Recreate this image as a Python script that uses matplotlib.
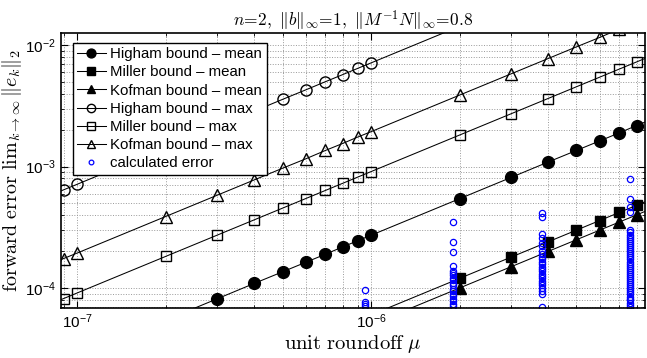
import matplotlib
matplotlib.use('Agg')
import matplotlib.pyplot as plt
from matplotlib.ticker import LogLocator, NullFormatter

plt.rcParams['font.family'] = ['Liberation Sans', 'DejaVu Sans']
plt.rcParams['mathtext.fontset'] = 'cm'

# unit roundoff values where the bounds are evaluated
mu = [8e-8, 9e-8, 1e-7, 2e-7, 3e-7, 4e-7, 5e-7, 6e-7, 7e-7, 8e-7, 9e-7,
      1e-6, 2e-6, 3e-6, 4e-6, 5e-6, 6e-6, 7e-6, 8e-6, 9e-6]

higham_mean = [2.18e-5, 2.45e-5, 2.72e-5, 5.44e-5, 8.16e-5, 1.09e-4, 1.36e-4, 1.63e-4, 1.90e-4, 2.18e-4,
               2.45e-4, 2.72e-4, 5.44e-4, 8.16e-4, 1.09e-3, 1.36e-3, 1.63e-3, 1.90e-3, 2.18e-3, 2.45e-3]
miller_mean = [4.8e-6, 5.4e-6, 6.0e-6, 1.2e-5, 1.8e-5, 2.4e-5, 3.0e-5, 3.6e-5, 4.2e-5, 4.8e-5,
               5.4e-5, 6.0e-5, 1.2e-4, 1.8e-4, 2.4e-4, 3.0e-4, 3.6e-4, 4.2e-4, 4.8e-4, 5.4e-4]
kofman_mean = [4.0e-6, 4.5e-6, 5.0e-6, 1.0e-5, 1.5e-5, 2.0e-5, 2.5e-5, 3.0e-5, 3.5e-5, 4.0e-5,
               4.5e-5, 5.0e-5, 1.0e-4, 1.5e-4, 2.0e-4, 2.5e-4, 3.0e-4, 3.5e-4, 4.0e-4, 4.5e-4]
higham_max = [5.72e-4, 6.44e-4, 7.15e-4, 1.43e-3, 2.15e-3, 2.86e-3, 3.58e-3, 4.29e-3, 5.01e-3, 5.72e-3,
              6.44e-3, 7.15e-3, 1.43e-2, 2.15e-2, 2.86e-2, 3.58e-2, 4.29e-2, 5.01e-2, 5.72e-2, 6.44e-2]
miller_max = [7.28e-5, 8.19e-5, 9.10e-5, 1.82e-4, 2.73e-4, 3.64e-4, 4.55e-4, 5.46e-4, 6.37e-4, 7.28e-4,
              8.19e-4, 9.10e-4, 1.82e-3, 2.73e-3, 3.64e-3, 4.55e-3, 5.46e-3, 6.37e-3, 7.28e-3, 8.19e-3]
kofman_max = [1.55e-4, 1.75e-4, 1.94e-4, 3.88e-4, 5.82e-4, 7.76e-4, 9.70e-4, 1.16e-3, 1.36e-3, 1.55e-3,
              1.75e-3, 1.94e-3, 3.88e-3, 5.82e-3, 7.76e-3, 9.70e-3, 1.16e-2, 1.36e-2, 1.55e-2, 1.75e-2]

# calculated errors, u = 2^-20 ... 2^-17
err_u20 = [9.7e-5, 7.7e-5, 7.4e-5, 7.1e-5]
err_u19 = [3.51e-4, 2.39e-4, 1.98e-4, 1.53e-4, 1.39e-4, 1.33e-4, 1.27e-4, 1.21e-4, 1.16e-4, 1.11e-4,
           1.06e-4, 9.8e-5, 9.4e-5, 9.0e-5, 8.6e-5, 8.2e-5, 7.8e-5, 7.4e-5, 7.1e-5]
err_u18 = [4.14e-4, 3.88e-4, 2.77e-4, 2.56e-4, 2.35e-4, 2.21e-4, 2.0e-4, 1.9e-4, 1.8e-4, 1.72e-4,
           1.64e-4, 1.57e-4, 1.5e-4, 1.43e-4, 1.37e-4, 1.31e-4, 1.25e-4, 1.2e-4, 1.15e-4, 1.1e-4,
           1.05e-4, 1.0e-4, 9.5e-5, 9.0e-5, 7.0e-5]
err_u17 = [7.85e-4, 5.46e-4, 4.67e-4, 4.2e-4, 3.0e-4, 2.88e-4, 2.76e-4, 2.65e-4, 2.55e-4, 2.45e-4,
           2.36e-4, 2.27e-4, 2.18e-4, 2.1e-4, 2.02e-4, 1.94e-4, 1.86e-4, 1.79e-4, 1.72e-4, 1.65e-4,
           1.59e-4, 1.53e-4, 1.47e-4, 1.41e-4, 1.36e-4, 1.31e-4, 1.26e-4, 1.21e-4, 1.16e-4, 1.12e-4,
           1.08e-4, 1.04e-4, 1.0e-4, 9.6e-5, 9.2e-5, 8.9e-5, 8.5e-5, 8.2e-5, 7.9e-5, 7.6e-5,
           7.3e-5, 7.0e-5]
u_calc = [2.0**-20, 2.0**-19, 2.0**-18, 2.0**-17]
err_calc = [err_u20, err_u19, err_u18, err_u17]

fig = plt.figure(figsize=(6.47, 3.58), dpi=100)
ax = fig.add_axes([0.0943, 0.1397, 0.9026, 0.768])

lw = 0.75
ax.plot(mu, higham_mean, 'k-', marker='o', markersize=8.5, linewidth=lw, label='Higham bound – mean')
ax.plot(mu, miller_mean, 'k-', marker='s', markersize=7.5, linewidth=lw, label='Miller bound – mean')
ax.plot(mu, kofman_mean, 'k-', marker='^', markersize=8.5, linewidth=lw, label='Kofman bound – mean')
ax.plot(mu, higham_max, 'k-', marker='o', markersize=8, markerfacecolor='none', linewidth=lw,
        label='Higham bound – max')
ax.plot(mu, miller_max, 'k-', marker='s', markersize=7, markerfacecolor='none', linewidth=lw,
        label='Miller bound – max')
ax.plot(mu, kofman_max, 'k-', marker='^', markersize=8.5, markerfacecolor='none', linewidth=lw,
        label='Kofman bound – max')

for i, (u, errs) in enumerate(zip(u_calc, err_calc)):
    ax.plot([u] * len(errs), errs, linestyle='none', marker='o', markersize=4.5,
            markerfacecolor='none', markeredgecolor='blue', markeredgewidth=0.9,
            label='calculated error' if i == 0 else None)

ax.set_xscale('log')
ax.set_yscale('log')
ax.set_xlim(8.82e-8, 8.55e-6)
ax.set_ylim(6.85e-5, 1.26e-2)

ax.xaxis.set_minor_locator(LogLocator(base=10, subs=range(2, 10)))
ax.yaxis.set_minor_locator(LogLocator(base=10, subs=range(2, 10)))
ax.xaxis.set_minor_formatter(NullFormatter())
ax.yaxis.set_minor_formatter(NullFormatter())
ax.tick_params(which='both', direction='in', top=True, right=True, labelsize=11)
ax.tick_params(which='major', length=5, width=0.8)
ax.tick_params(which='minor', length=2.5, width=0.6)
ax.grid(True, which='both', linestyle=':', color='0.6', linewidth=0.7)
for s in ax.spines.values():
    s.set_linewidth(1.2)

ax.set_title(r'$n\!=\!2,\ \|b\|_\infty\!=\!1,\ \|M^{-1}N\|_\infty\!=\!0.8$', fontsize=12.5, pad=5)
ax.set_xlabel(r'$\mathrm{unit\ roundoff}\ \mu$', fontsize=14.8, labelpad=1)
ax.set_ylabel(r'$\mathrm{forward\ error}\ \mathrm{lim}_{k\rightarrow\infty}\,\|e_k\|_2$', fontsize=14.5, labelpad=1)

leg = ax.legend(loc='upper left', bbox_to_anchor=(0.020, 0.965), borderaxespad=0, fontsize=10.8,
                fancybox=False, framealpha=1, edgecolor='black', markerscale=0.75,
                handlelength=1.9, handletextpad=0.3, labelspacing=0.28, borderpad=0.3)
leg.get_frame().set_linewidth(1.0)

fig.savefig('out.png', dpi=100)
